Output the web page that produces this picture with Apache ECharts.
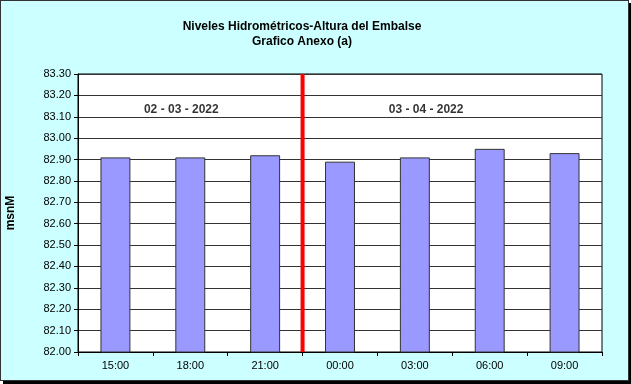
<!DOCTYPE html>
<html><head><meta charset="utf-8">
<script src="https://cdn.jsdelivr.net/npm/echarts@6/dist/echarts.min.js"></script>
<style>
html,body{margin:0;padding:0;background:#fff;}
#frame{position:absolute;left:0;top:0;width:627px;height:379px;background:#CCFFFF;border:1px solid #333;box-shadow:3px 3px 0 #000;}
#chart{width:627px;height:379px;}
</style></head>
<body><div id="frame"><div id="chart"></div></div>
<script>
var categories = ['15:00','18:00','21:00','00:00','03:00','06:00','09:00'];
var levels = [82.91, 82.91, 82.92, 82.89, 82.91, 82.95, 82.93];
var dividerLine = [[3, 82.0], [3, 83.3]];
var dateLabels = [[1.38, 83.135, '02 - 03 - 2022'], [4.65, 83.135, '03 - 04 - 2022']];
var yMin = 82.0, yMax = 83.3, yStep = 0.1;

var FONT = '"Liberation Sans", Arial, sans-serif';
var chart = echarts.init(document.getElementById('chart'), null, {renderer:'canvas'});
chart.setOption({
  animation: false,
  textStyle: {fontFamily: FONT},
  title: {
    text: 'Niveles Hidrométricos-Altura del Embalse\nGrafico Anexo (a)',
    left: 296, top: 13, textAlign: 'center',
    textStyle: {fontFamily: FONT, fontSize: 12, fontWeight: 'bold', color: '#000', lineHeight: 15}
  },
  grid: {left: 77, right: 26, top: 73, bottom: 28, show: true, backgroundColor: '#fff', borderColor: '#000', borderWidth: 1, containLabel: false, outerBoundsMode: 'none'},
  xAxis: [{
    type: 'category', data: categories,
    axisLine: {show: true, lineStyle: {color: '#000', width: 1}},
    axisTick: {show: true, length: 4, inside: false, alignWithLabel: false, lineStyle: {color: '#000'}},
    axisLabel: {fontFamily: FONT, fontSize: 11, color: '#000', margin: 8},
    splitLine: {show: false}
  }, {
    type: 'value', min: 0, max: 7, show: false
  }],
  yAxis: {
    type: 'value', min: yMin, max: yMax, interval: yStep,
    name: 'msnM', nameLocation: 'middle', nameRotate: 90, nameGap: 61,
    nameTextStyle: {fontFamily: FONT, fontSize: 12, fontWeight: 'bold', color: '#000'},
    axisLine: {show: true, lineStyle: {color: '#000'}},
    axisTick: {show: true, length: 4, lineStyle: {color: '#000'}},
    axisLabel: {fontFamily: FONT, fontSize: 11, color: '#000', margin: 7, formatter: function(v){return v.toFixed(2);}},
    splitLine: {show: true, lineStyle: {color: '#333', width: 1}}
  },
  series: [{
    type: 'bar', data: levels, barWidth: '40%',
    itemStyle: {color: '#9999FF', borderColor: '#333', borderWidth: 1},
    z: 2
  }, {
    type: 'line', xAxisIndex: 1, data: dividerLine, symbol: 'none',
    lineStyle: {color: '#FF0000', width: 4}, z: 3
  }, {
    type: 'scatter', xAxisIndex: 1, symbolSize: 0,
    data: dateLabels.map(function(d){return [d[0], d[1], d[2]];}),
    label: {show: true, position: 'inside', formatter: function(p){return p.data[2];},
      fontFamily: FONT, fontSize: 12, fontWeight: 'bold', color: '#000'},
    z: 4
  }]
});
</script></body></html>
